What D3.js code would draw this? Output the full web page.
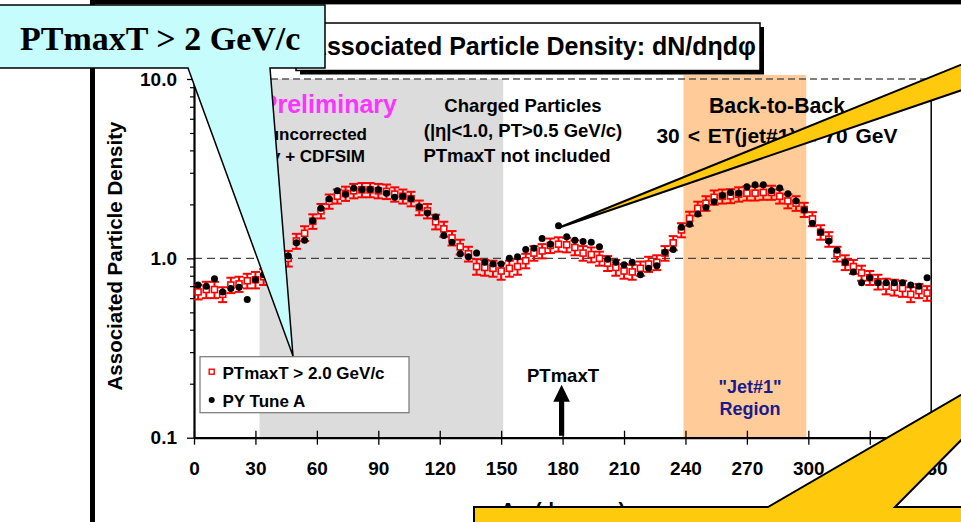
<!DOCTYPE html>
<html>
<head>
<meta charset="utf-8">
<script src="https://cdn.jsdelivr.net/npm/d3@7"></script>
<style>
  body { margin: 0; background: #ffffff; }
  svg { display: block; }
  text { font-family: Arial, "Liberation Sans", sans-serif; font-weight: bold; }
</style>
</head>
<body>
<svg id="chart" width="961" height="522"></svg>
<script>
// Azimuthal bin centres (degrees), 4-degree bins
const phi = [2,6,10,14,18,22,26,30,34,38,42,46,50,54,58,62,66,70,74,78,82,86,90,94,98,102,106,110,114,118,122,126,130,134,138,142,146,150,154,158,162,166,170,174,178,182,186,190,194,198,202,206,210,214,218,222,226,230,234,238,242,246,250,254,258,262,266,270,274,278,282,286,290,294,298,302,306,310,314,318,322,326,330,334,338,342,346,350,354,358];

// Data: PTmaxT > 2.0 GeV/c (density and its uncertainty)
const dataDensity = [0.65,0.67,0.67,0.63,0.71,0.72,0.75,0.76,0.79,0.85,0.92,1.00,1.25,1.38,1.61,1.84,2.08,2.22,2.30,2.38,2.41,2.41,2.38,2.36,2.28,2.22,2.15,1.92,1.84,1.60,1.46,1.30,1.16,1.06,0.90,0.89,0.88,0.85,0.88,0.90,0.97,1.07,1.10,1.18,1.20,1.19,1.15,1.07,1.05,1.00,0.94,0.89,0.85,0.84,0.88,0.93,0.95,1.07,1.22,1.44,1.67,1.90,2.03,2.19,2.22,2.23,2.28,2.31,2.31,2.33,2.33,2.22,2.09,2.03,1.87,1.66,1.40,1.28,1.06,0.95,0.90,0.83,0.78,0.74,0.70,0.69,0.68,0.63,0.66,0.64];
const dataError = [0.06,0.07,0.07,0.06,0.07,0.07,0.07,0.08,0.08,0.08,0.09,0.10,0.12,0.13,0.15,0.17,0.19,0.20,0.21,0.22,0.22,0.22,0.22,0.22,0.21,0.20,0.20,0.18,0.17,0.15,0.14,0.12,0.11,0.10,0.09,0.09,0.09,0.09,0.09,0.09,0.09,0.10,0.10,0.11,0.11,0.11,0.11,0.10,0.10,0.09,0.09,0.09,0.08,0.08,0.08,0.09,0.09,0.10,0.11,0.13,0.15,0.17,0.19,0.20,0.20,0.20,0.21,0.21,0.21,0.21,0.21,0.20,0.19,0.19,0.17,0.15,0.13,0.12,0.10,0.09,0.08,0.08,0.07,0.07,0.07,0.07,0.07,0.06,0.06,0.06];

// PYTHIA Tune A + CDFSIM
const tuneA = [0.71,0.70,0.77,0.65,0.68,0.69,0.59,0.76,0.81,0.87,0.95,1.03,1.22,1.26,1.62,1.90,2.14,2.38,2.28,2.46,2.42,2.42,2.41,2.31,2.19,2.22,2.15,1.94,1.79,1.70,1.34,1.23,1.06,1.02,1.07,0.95,0.93,0.93,1.00,1.02,1.12,1.14,1.29,1.20,1.52,1.32,1.26,1.24,1.23,1.16,0.99,0.95,0.92,0.95,0.81,0.88,0.91,1.08,1.12,1.49,1.55,1.77,1.92,2.07,2.24,2.33,2.31,2.51,2.57,2.57,2.38,2.47,2.29,2.09,1.86,1.57,1.40,1.25,1.11,0.95,0.84,0.73,0.78,0.73,0.73,0.73,0.73,0.71,0.70,0.78];

// Axis ticks
const xTicks = [0,30,60,90,120,150,180,210,240,270,300,330,360];
const yTicks = [0.1,1,10];
const yMinorTicks = [0.2,0.3,0.4,0.5,0.6,0.7,0.8,0.9,2,3,4,5,6,7,8,9];

// Shaded regions (degrees)
const transRegion = [32,151];
const jetRegion = [239,299];

const svg = d3.select("#chart");
const x = d3.scaleLinear().domain([0,360]).range([194,931.2]);
const y = d3.scaleLog().domain([0.1,10]).range([437.7,79]);

// Slide frame
svg.append("rect").attr("x",0).attr("y",0).attr("width",961).attr("height",522).attr("fill","#ffffff");
svg.append("rect").attr("x",90).attr("y",0).attr("width",871).attr("height",4).attr("fill","#000");
svg.append("line").attr("x1",90).attr("x2",961).attr("y1",4.5).attr("y2",4.5).attr("stroke","#999").attr("stroke-width",1);
svg.append("rect").attr("x",90).attr("y",0).attr("width",5).attr("height",522).attr("fill","#000");

// Shaded regions
svg.append("rect")
  .attr("x",x(transRegion[0])).attr("y",y(10))
  .attr("width",x(transRegion[1])-x(transRegion[0])).attr("height",y(0.1)-y(10))
  .attr("fill","#dcdcdc");
svg.append("rect")
  .attr("x",x(jetRegion[0])).attr("y",y(10)-4)
  .attr("width",x(jetRegion[1])-x(jetRegion[0])).attr("height",y(0.1)-y(10)+4)
  .attr("fill","#ffcc99");

// Plot frame: dashed top, solid right, dashed reference at 1.0
svg.append("line").attr("x1",x(0)).attr("x2",x(360)).attr("y1",y(10)).attr("y2",y(10))
  .attr("stroke","#555").attr("stroke-width",1.3).attr("stroke-dasharray","7,4");
svg.append("line").attr("x1",x(360)).attr("x2",x(360)).attr("y1",y(10)).attr("y2",y(0.1))
  .attr("stroke","#000").attr("stroke-width",1.5);
svg.append("line").attr("x1",x(0)).attr("x2",x(360)).attr("y1",y(1)).attr("y2",y(1))
  .attr("stroke","#444").attr("stroke-width",1.3).attr("stroke-dasharray","8,5");

// Axes
const xAxis = svg.append("g").attr("transform",`translate(0,${y(0.1)})`)
  .call(d3.axisBottom(x).tickValues(xTicks).tickSize(7).tickSizeOuter(0).tickPadding(17));
xAxis.selectAll(".tick line").attr("y1",-7).attr("stroke-width",1.3);
xAxis.select(".domain").attr("stroke-width",2.2);
xAxis.selectAll(".tick text").attr("font-size",19);

const yAxis = svg.append("g").attr("transform",`translate(${x(0)},0)`)
  .call(d3.axisLeft(y).tickValues(yTicks).tickFormat(d3.format(".1f")).tickSize(7).tickSizeOuter(0).tickPadding(10));
yAxis.select(".domain").attr("stroke-width",2.2);
yAxis.selectAll(".tick line").attr("stroke-width",1.3);
yAxis.selectAll(".tick text").attr("font-size",19);
const yMinor = svg.append("g").attr("transform",`translate(${x(0)},0)`)
  .call(d3.axisLeft(y).tickValues(yMinorTicks).tickSize(4).tickFormat(""));
yMinor.select(".domain").remove();
yMinor.selectAll(".tick line").attr("stroke-width",1.2);

// Axis titles
svg.append("text").attr("transform","translate(122,256) rotate(-90)")
  .attr("text-anchor","middle").attr("font-size",20.5).text("Associated Particle Density");
svg.append("text").attr("x",563).attr("y",517).attr("text-anchor","middle")
  .attr("font-size",20).text("\u0394\u03c6 (degrees)");

// Error bars and data markers
const pts = phi.map((p,i)=>({p, v:dataDensity[i], e:dataError[i], t:tuneA[i]}));
const cap = 4.5;
const eb = svg.append("g").attr("stroke","#ff0000").attr("stroke-width",2);
pts.forEach(d=>{
  const cx = x(d.p), lo = y(d.v-d.e), hi = y(d.v+d.e);
  eb.append("line").attr("x1",cx).attr("x2",cx).attr("y1",lo).attr("y2",hi);
  eb.append("line").attr("x1",cx-cap).attr("x2",cx+cap).attr("y1",lo).attr("y2",lo);
  eb.append("line").attr("x1",cx-cap).attr("x2",cx+cap).attr("y1",hi).attr("y2",hi);
});
svg.append("g").selectAll("rect").data(pts).join("rect")
  .attr("x",d=>x(d.p)-3).attr("y",d=>y(d.v)-3).attr("width",6).attr("height",6)
  .attr("fill","#fff").attr("stroke","#ff0000").attr("stroke-width",1.6);
svg.append("g").selectAll("circle").data(pts).join("circle")
  .attr("cx",d=>x(d.p)).attr("cy",d=>y(d.t)).attr("r",3.5).attr("fill","#000");

// Annotations inside the plot
const note = (tx,ty,str,size,anchor,fill)=>svg.append("text").attr("x",tx).attr("y",ty)
  .attr("text-anchor",anchor||"middle").attr("font-size",size).attr("fill",fill||"#000").text(str);
note(397,113,"CDF Preliminary",25,"end","#ff33ff");
note(367,140,"data uncorrected",17,"end");
note(365,162,"theory + CDFSIM",17,"end");
note(523,112,"Charged Particles",18.5);
note(523,137,"(|\u03b7|<1.0, PT>0.5 GeV/c)",18.5);
note(517,162,"PTmaxT not included",18.5);
note(777,113,"Back-to-Back",21.3);
note(777,143,"30 < ET(jet#1) < 70 GeV",21).attr("word-spacing",2);
note(750,393,"\"Jet#1\"",18,"middle","#1a1a8c");
note(750,415,"Region",18,"middle","#1a1a8c");
note(563,382,"PTmaxT",18.5);

// Arrow marking the PTmaxT direction
const ax = x(180)-1, ab = y(0.1)-2;
svg.append("path")
  .attr("d",`M${ax-2.6},${ab} L${ax-2.6},${ab-34} L${ax-8.3},${ab-34} L${ax},${ab-51} L${ax+8.3},${ab-34} L${ax+2.6},${ab-34} L${ax+2.6},${ab} Z`)
  .attr("fill","#000");

// Legend
const lg = svg.append("g");
lg.append("rect").attr("x",200).attr("y",356.7).attr("width",209).attr("height",56)
  .attr("fill","#fff").attr("stroke","#777").attr("stroke-width",1.2);
lg.append("rect").attr("x",209.2).attr("y",369.2).attr("width",5).attr("height",5)
  .attr("fill","#fff").attr("stroke","#ff0000").attr("stroke-width",1.4);
lg.append("text").attr("x",222.5).attr("y",378.5).attr("font-size",17).text("PTmaxT > 2.0 GeV/c");
lg.append("circle").attr("cx",211.7).attr("cy",400).attr("r",3).attr("fill","#000");
lg.append("text").attr("x",222.5).attr("y",406.5).attr("font-size",17).text("PY Tune A");

// Title box with drop shadow
svg.append("rect").attr("x",300).attr("y",27).attr("width",464).attr("height",47.5).attr("fill","#000");
svg.append("rect").attr("x",296).attr("y",23).attr("width",464).attr("height",47.5)
  .attr("fill","#fff").attr("stroke","#000").attr("stroke-width",1.5);
svg.append("text").attr("x",756).attr("y",55).attr("text-anchor","end").attr("font-size",25)
  .text("Associated Particle Density: dN/d\u03b7d\u03c6");

// Yellow callouts
svg.append("path").attr("d","M558,228 L1000,49 L1000,77 Z")
  .attr("fill","#ffc90e").attr("stroke","#000").attr("stroke-width",2).attr("stroke-linejoin","round");
svg.append("path").attr("d","M474,507 L768,507 L1066,334 L895,507 L975,507 L975,535 L474,535 Z")
  .attr("fill","#ffc90e").attr("stroke","#000").attr("stroke-width",2);

// Cyan callout
svg.append("path").attr("d","M-5,5 L325,5 L325,68 L270,68 L293,356 L188,68 L-5,68 Z")
  .attr("fill","#c6fcfc").attr("stroke","#000").attr("stroke-width",1.5);
svg.append("text").attr("x",20).attr("y",50).attr("font-size",34)
  .style("font-family","'Times New Roman','Liberation Serif',serif").text("PTmaxT > 2 GeV/c");
</script>
</body>
</html>
